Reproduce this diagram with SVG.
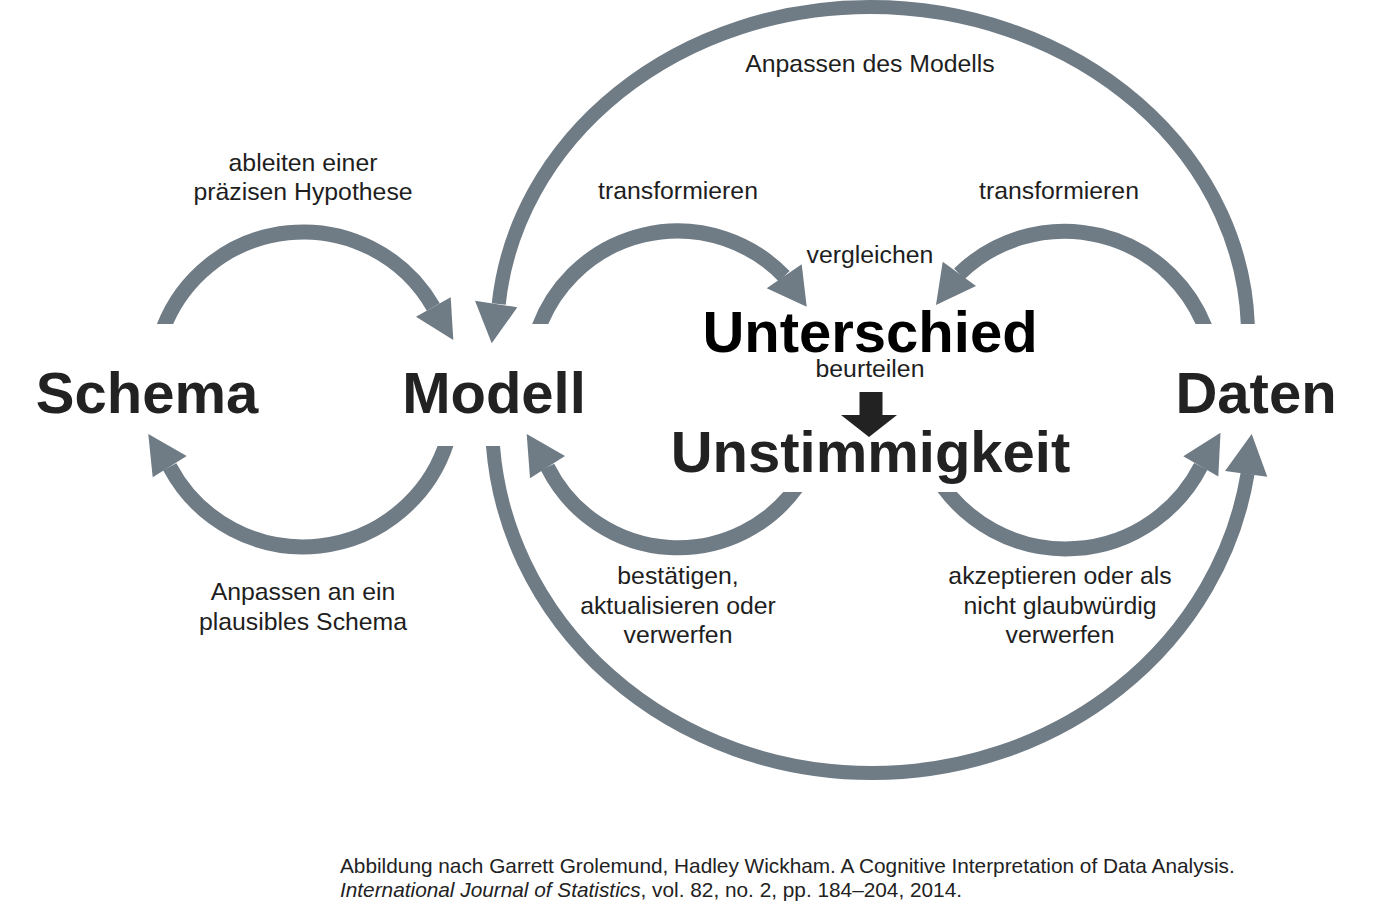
<svg xmlns="http://www.w3.org/2000/svg" width="1374" height="916" viewBox="0 0 1374 916">
<defs>
<style>
.arc{fill:none;stroke:#6f7b85;stroke-width:15}
.big{stroke-width:14}
.head{fill:#6f7b85}
.lbl{font-family:"Liberation Sans",Arial,sans-serif;font-size:24.8px;fill:#1e1e1e;text-anchor:middle}
.node{font-family:"Liberation Sans",Arial,sans-serif;font-size:58px;font-weight:bold;fill:#222;text-anchor:middle}
.cap{font-family:"Liberation Sans",Arial,sans-serif;font-size:20.8px;fill:#222}
</style>
<clipPath id="cA"><rect x="0" y="0" width="1374" height="324"/></clipPath>
<clipPath id="cB"><rect x="0" y="446" width="1374" height="470"/></clipPath>
<clipPath id="cE"><rect x="0" y="0" width="720" height="916"/><rect x="720" y="492" width="654" height="424"/></clipPath>
<clipPath id="cF"><rect x="1020" y="0" width="354" height="916"/><rect x="0" y="492" width="1020" height="424"/></clipPath>
</defs>
<rect width="1374" height="916" fill="#fff"/>
<g id="connectors">
<path class="arc" clip-path="url(#cA)" d="M160.9 335 A150 150 0 0 1 433.3 307"/>
<polygon class="head" points="416,316.7 450.7,297.3 453.3,340"/>
<path class="arc" clip-path="url(#cB)" d="M448.6 436 A151 151 0 0 1 169.7 466.7"/>
<polygon class="head" points="148.3,434 186.7,456 152.7,477.3"/>
<path class="arc" clip-path="url(#cA)" d="M536.3 335 A148 148 0 0 1 784.2 276.3"/>
<polygon class="head" points="806.7,306.7 766.7,288.3 801.7,264.3"/>
<path class="arc" clip-path="url(#cA)" d="M1207.8 335 A151 151 0 0 0 959.3 273.8"/>
<polygon class="head" points="936,305 942.7,261.7 976,286"/>
<path class="arc" clip-path="url(#cE)" d="M800.1 482 A146 146 0 0 1 547.5 467"/>
<polygon class="head" points="526.7,434 565,456 530,478.3"/>
<path class="arc" clip-path="url(#cF)" d="M939.7 482 A152 152 0 0 0 1200.8 466.4"/>
<polygon class="head" points="1220.5,432.7 1183.3,456.3 1218.3,476.5"/>
<path class="arc big" clip-path="url(#cA)" d="M1248 335 A378 328 0 0 0 870 7 A373 328 0 0 0 498.7 304"/>
<polygon class="head" points="491.7,343.3 475,300.7 517.3,307.3"/>
<path class="arc big" clip-path="url(#cB)" d="M492.4 437 A380 353 0 0 0 872 773 A380 353 0 0 0 1247.6 473.7"/>
<polygon class="head" points="1251.7,434 1225,471 1267.3,476.7"/>
<polygon id="judge-arrow" fill="#222" points="859.5,392 882.5,392 882.5,415 897,415 869,437 841,415 859.5,415"/>
</g>
<g id="edge-labels">
<text class="lbl" x="870" y="72">Anpassen des Modells</text>
<text class="lbl" x="303" y="171">ableiten einer</text>
<text class="lbl" x="303" y="200">präzisen Hypothese</text>
<text class="lbl" x="678" y="199">transformieren</text>
<text class="lbl" x="1059" y="199">transformieren</text>
<text class="lbl" x="870" y="263">vergleichen</text>
<text class="lbl" x="870" y="377">beurteilen</text>
<text class="lbl" x="303" y="600">Anpassen an ein</text>
<text class="lbl" x="303" y="630">plausibles Schema</text>
<text class="lbl" x="678" y="584">bestätigen,</text>
<text class="lbl" x="678" y="614">aktualisieren oder</text>
<text class="lbl" x="678" y="643">verwerfen</text>
<text class="lbl" x="1060" y="584">akzeptieren oder als</text>
<text class="lbl" x="1060" y="614">nicht glaubwürdig</text>
<text class="lbl" x="1060" y="643">verwerfen</text>
</g>
<g id="node-schema"><text class="node" x="147" y="413">Schema</text></g>
<g id="node-modell"><text class="node" x="494" y="413">Modell</text></g>
<g id="node-daten"><text class="node" x="1256" y="413">Daten</text></g>
<g id="node-unterschied"><text class="node" x="870" y="352" style="fill:#000">Unterschied</text></g>
<g id="node-unstimmigkeit"><text class="node" x="870.5" y="472">Unstimmigkeit</text></g>
<g id="caption">
<text class="cap" x="340" y="873">Abbildung nach Garrett Grolemund, Hadley Wickham. A Cognitive Interpretation of Data Analysis.</text>
<text class="cap" x="340" y="897"><tspan font-style="italic">International Journal of Statistics</tspan>, vol. 82, no. 2, pp. 184–204, 2014.</text>
</g>
</svg>
